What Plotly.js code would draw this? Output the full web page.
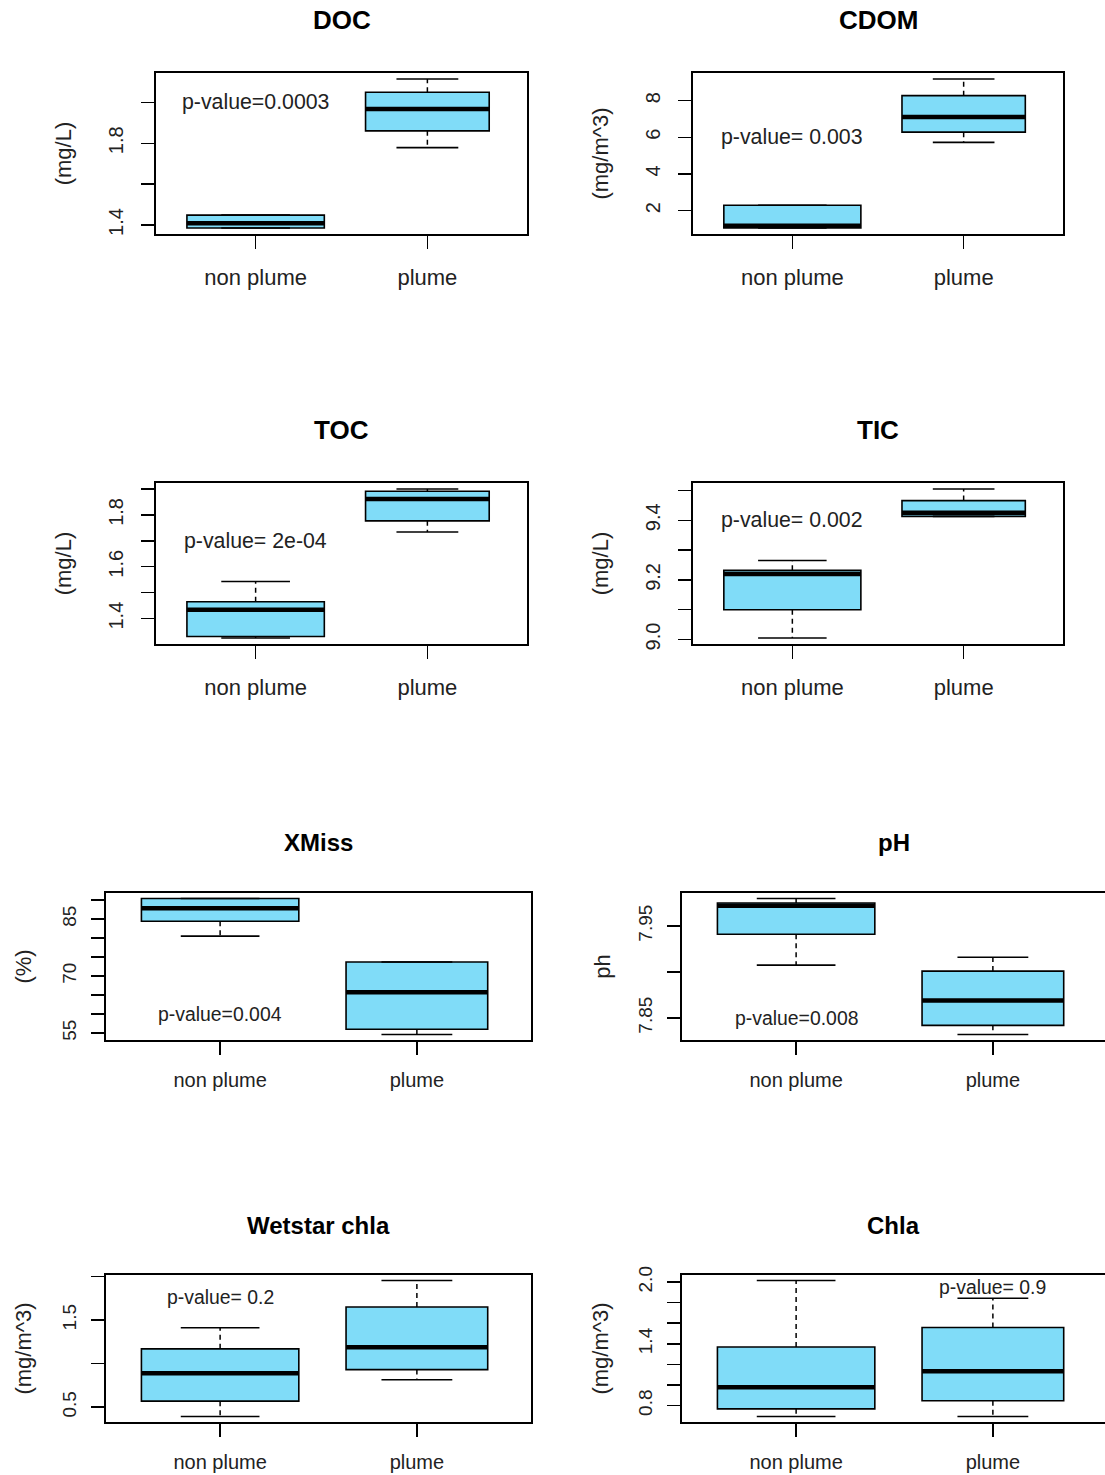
<!DOCTYPE html>
<html>
<head>
<meta charset="utf-8">
<script src="https://cdn.plot.ly/plotly-3.0.1.min.js"></script>
<style>
html, body { margin: 0; padding: 0; background: #fff; overflow: hidden; }
#chart { width: 1108px; height: 1475px; }
</style>
</head>
<body>
<div id="chart"></div>
<script>
// ---------------- data ----------------
const groups = ['non plume', 'plume'];
const panelTitles = ['DOC', 'CDOM', 'TOC', 'TIC', 'XMiss', 'pH', 'Wetstar chla', 'Chla'];
const units = ['(mg/L)', '(mg/m^3)', '(mg/L)', '(mg/L)', '(%)', 'ph', '(mg/m^3)', '(mg/m^3)'];
const pValues = ['p-value=0.0003', 'p-value= 0.003', 'p-value= 2e-04', 'p-value= 0.002',
                 'p-value=0.004', 'p-value=0.008', 'p-value= 0.2', 'p-value= 0.9'];

// five-number summaries: [lower whisker, Q1, median, Q3, upper whisker]
const DOC_nonplume   = [1.385, 1.385, 1.408, 1.448, 1.448];
const DOC_plume      = [1.779, 1.861, 1.968, 2.050, 2.115];
const CDOM_nonplume  = [1.05, 1.05, 1.18, 2.29, 2.29];
const CDOM_plume     = [5.72, 6.28, 7.10, 8.27, 9.18];
const TOC_nonplume   = [1.325, 1.331, 1.434, 1.465, 1.543];
const TOC_plume      = [1.734, 1.777, 1.861, 1.891, 1.900];
const TIC_nonplume   = [9.005, 9.100, 9.220, 9.232, 9.265];
const TIC_plume      = [9.413, 9.413, 9.425, 9.466, 9.505];
const XMiss_nonplume = [80.5, 84.4, 87.8, 90.4, 90.4];
const XMiss_plume    = [54.6, 56.0, 65.7, 73.7, 73.7];
const pH_nonplume    = [7.9075, 7.941, 7.972, 7.975, 7.980];
const pH_plume       = [7.832, 7.842, 7.869, 7.901, 7.916];
const Wetstar_nonplume = [0.392, 0.569, 0.888, 1.169, 1.411];
const Wetstar_plume    = [0.815, 0.931, 1.188, 1.650, 1.954];
const Chla_nonplume  = [0.693, 0.768, 0.977, 1.369, 2.016];
const Chla_plume     = [0.693, 0.846, 1.134, 1.559, 1.843];

// y tick values and labels
const DOC_ticks = [1.4, 1.6, 1.8, 2.0];          const DOC_labels = ['1.4', '', '1.8', ''];
const CDOM_ticks = [2, 4, 6, 8];                 const CDOM_labels = ['2', '4', '6', '8'];
const TOC_ticks = [1.4, 1.5, 1.6, 1.7, 1.8, 1.9]; const TOC_labels = ['1.4', '', '1.6', '', '1.8', ''];
const TIC_ticks = [9.0, 9.1, 9.2, 9.3, 9.4, 9.5]; const TIC_labels = ['9.0', '', '9.2', '', '9.4', ''];
const XMiss_ticks = [55, 60, 65, 70, 75, 80, 85, 90]; const XMiss_labels = ['55', '', '', '70', '', '', '85', ''];
const pH_ticks = [7.85, 7.90, 7.95];             const pH_labels = ['7.85', '', '7.95'];
const Wetstar_ticks = [0.5, 1.0, 1.5, 2.0];      const Wetstar_labels = ['0.5', '', '1.5', ''];
const Chla_ticks = [0.8, 1.0, 1.2, 1.4, 1.6, 1.8, 2.0]; const Chla_labels = ['0.8', '', '', '1.4', '', '', '2.0'];

// ---------------- layout geometry / styles ----------------
const W = 1108, H = 1475;
const panels = [
  {stats: [DOC_nonplume, DOC_plume], ticks: DOC_ticks, labels: DOC_labels},
  {stats: [CDOM_nonplume, CDOM_plume], ticks: CDOM_ticks, labels: CDOM_labels},
  {stats: [TOC_nonplume, TOC_plume], ticks: TOC_ticks, labels: TOC_labels},
  {stats: [TIC_nonplume, TIC_plume], ticks: TIC_ticks, labels: TIC_labels},
  {stats: [XMiss_nonplume, XMiss_plume], ticks: XMiss_ticks, labels: XMiss_labels},
  {stats: [pH_nonplume, pH_plume], ticks: pH_ticks, labels: pH_labels},
  {stats: [Wetstar_nonplume, Wetstar_plume], ticks: Wetstar_ticks, labels: Wetstar_labels},
  {stats: [Chla_nonplume, Chla_plume], ticks: Chla_ticks, labels: Chla_labels}
];
// plot boxes in pixels: [left, right, top, bottom]
const boxesPx = [[156,527,73,234],[693,1063,73,234],[156,527,483,644],[693,1063,483,644],
                 [106,531,893,1040],[682,1107,893,1040],[106,531,1275,1422],[682,1107,1275,1422]];
const titleYPx = [20, 20, 430, 430, 842, 842, 1225, 1225];
const yTitleStandoff = [28, 28, 28, 28, 21, 18, 21, 20];
// p-value annotation positions (data coordinates)
const pPos = [[1, 2.0], [1, 6], [1, 1.7], [1, 9.4], [1, 60], [1, 7.85], [1, 1.76], [2, 1.95]];
// font sizes: upper two rows vs lower two rows
const SZ = {
  big:   {title: 26, xtick: 22, ytick: 20, ptext: 21.3, ytitle: 22, xstand: 10, ystand: 10},
  small: {title: 24, xtick: 20, ytick: 19, ptext: 19.4, ytitle: 22, xstand: 8,  ystand: 8}
};

const FILL = '#80dcf8';
const FONT = 'Liberation Sans, Arial, sans-serif';
const BOX_WIDTHS = [0.8, 0.72];   // varwidth-style box widths (x units)

const traces = [];
const layout = {
  width: W, height: H,
  margin: {l: 0, r: 0, t: 0, b: 0},
  paper_bgcolor: '#fff', plot_bgcolor: '#fff',
  showlegend: false,
  font: {family: FONT, color: '#111'},
  annotations: []
};

panels.forEach((p, k) => {
  const sfx = k === 0 ? '' : String(k + 1);
  const xa = 'x' + sfx, ya = 'y' + sfx;
  const [l, r, t, b] = boxesPx[k];
  const sz = k < 4 ? SZ.big : SZ.small;

  let lo = Infinity, hi = -Infinity;
  p.stats.forEach((s, i) => {
    const pos = i + 1;
    const bw = BOX_WIDTHS[i];
    const [wl, q1, med, q3, wh] = s;
    lo = Math.min(lo, wl); hi = Math.max(hi, wh);
    // box body
    traces.push({
      type: 'box', xaxis: xa, yaxis: ya, name: groups[i],
      x: [pos], q1: [q1], median: [med], q3: [q3], lowerfence: [q1], upperfence: [q3],
      width: bw, whiskerwidth: 0, fillcolor: FILL,
      line: {color: '#000', width: 1.6}, hoverinfo: 'skip'
    });
    // dashed whiskers
    traces.push({
      type: 'scatter', mode: 'lines', xaxis: xa, yaxis: ya, hoverinfo: 'skip',
      x: [pos, pos, null, pos, pos], y: [q3, wh, null, q1, wl],
      line: {color: '#000', width: 1.5, dash: '5px,4px'}
    });
    // staples
    traces.push({
      type: 'scatter', mode: 'lines', xaxis: xa, yaxis: ya, hoverinfo: 'skip',
      x: [pos - bw / 4, pos + bw / 4, null, pos - bw / 4, pos + bw / 4],
      y: [wh, wh, null, wl, wl],
      line: {color: '#000', width: 1.6}
    });
    // thick median
    traces.push({
      type: 'scatter', mode: 'lines', xaxis: xa, yaxis: ya, hoverinfo: 'skip',
      x: [pos - bw / 2, pos + bw / 2], y: [med, med],
      line: {color: '#000', width: 4.5}
    });
  });
  const pad = (hi - lo) * 0.04;

  layout['xaxis' + sfx] = {
    domain: [l / W, r / W], anchor: ya, range: [0.42, 2.58],
    tickvals: [1, 2], ticktext: groups, ticks: 'outside', ticklen: 13, tickwidth: 1.5, tickcolor: '#000',
    showline: true, mirror: true, linecolor: '#000', linewidth: 1.6,
    showgrid: false, zeroline: false, fixedrange: true,
    tickfont: {family: FONT, size: sz.xtick, color: '#222'}, ticklabelstandoff: sz.xstand
  };
  layout['yaxis' + sfx] = {
    domain: [1 - b / H, 1 - t / H], anchor: xa, range: [lo - pad, hi + pad],
    tickvals: p.ticks, ticktext: p.labels, ticks: 'outside', ticklen: 13, tickwidth: 1.5, tickcolor: '#000',
    tickangle: -90, showline: true, mirror: true, linecolor: '#000', linewidth: 1.6,
    showgrid: false, zeroline: false, fixedrange: true,
    tickfont: {family: FONT, size: sz.ytick, color: '#222'}, ticklabelstandoff: sz.ystand,
    title: {text: units[k], font: {family: FONT, size: sz.ytitle, color: '#222'}, standoff: yTitleStandoff[k]}
  };

  // panel title
  layout.annotations.push({
    xref: 'paper', yref: 'paper', x: ((l + Math.min(r, 1105)) / 2) / W, y: 1 - titleYPx[k] / H,
    xanchor: 'center', yanchor: 'middle', showarrow: false,
    text: panelTitles[k], font: {family: FONT, size: sz.title, weight: 700, color: '#000'}
  });
  // p-value text
  layout.annotations.push({
    xref: xa, yref: ya, x: pPos[k][0], y: pPos[k][1],
    xanchor: 'center', yanchor: 'middle', showarrow: false,
    text: pValues[k], font: {family: FONT, size: sz.ptext, color: '#222'}
  });
});

Plotly.newPlot('chart', traces, layout, {staticPlot: true, displayModeBar: false});
</script>
</body>
</html>
